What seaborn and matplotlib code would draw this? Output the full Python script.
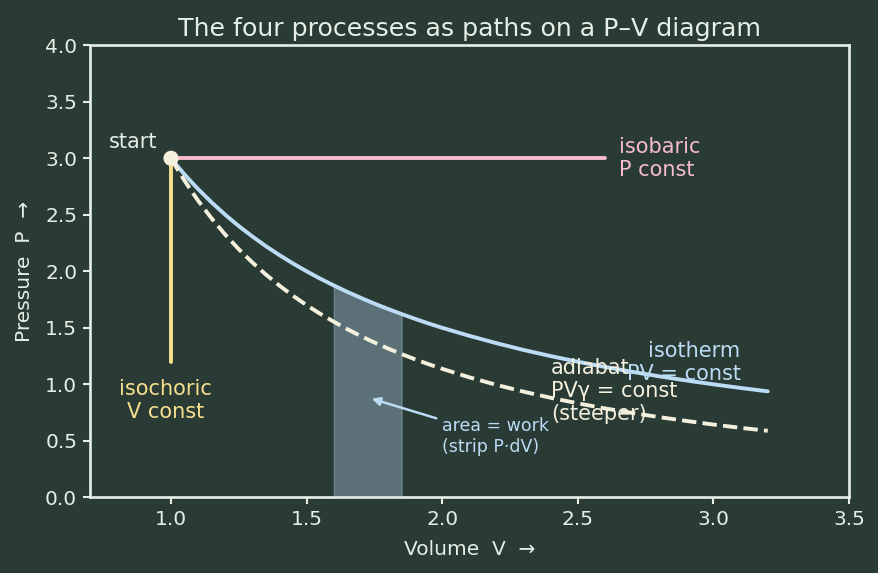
import numpy as np
import matplotlib
matplotlib.use("Agg")
import matplotlib.pyplot as plt
import seaborn as sns

# values
v_curve = [1.0, 1.025, 1.05, 1.075, 1.1, 1.15, 1.2, 1.25, 1.3, 1.35, 1.4, 1.45,
           1.5, 1.55, 1.6, 1.65, 1.7, 1.75, 1.8, 1.85, 1.9, 1.95, 2.0, 2.1,
           2.2, 2.3, 2.4, 2.5, 2.6, 2.7, 2.8, 2.9, 3.0, 3.1, 3.2]
p_isotherm = [3.000, 2.927, 2.857, 2.791, 2.727, 2.609, 2.500, 2.400, 2.308,
              2.222, 2.143, 2.069, 2.000, 1.935, 1.875, 1.818, 1.765, 1.714,
              1.667, 1.622, 1.579, 1.538, 1.500, 1.429, 1.364, 1.304, 1.250,
              1.200, 1.154, 1.111, 1.071, 1.034, 1.000, 0.968, 0.938]
p_adiabat = [3.000, 2.898, 2.802, 2.711, 2.625, 2.467, 2.324, 2.195, 2.078,
             1.971, 1.873, 1.783, 1.700, 1.624, 1.554, 1.488, 1.427, 1.370,
             1.317, 1.268, 1.221, 1.178, 1.137, 1.062, 0.995, 0.935, 0.881,
             0.832, 0.787, 0.747, 0.710, 0.676, 0.644, 0.615, 0.589]
v_isobaric = [1.0, 2.6]
p_isobaric = [3.0, 3.0]
v_isochoric = [1.0, 1.0]
p_isochoric = [3.0, 1.2]
v_strip = [1.6, 1.65, 1.7, 1.75, 1.8, 1.85]
p_strip = [1.875, 1.818, 1.765, 1.714, 1.667, 1.622]
start_v, start_p = 1.0, 3.0

bg = "#2a3a34"
fg = "#e6efe6"
c_iso_t = "#bcdcf6"
c_adia = "#f4f0de"
c_isobar = "#f6bccb"
c_isochor = "#f6e08e"

sns.set_theme(style="dark", rc={
    "figure.facecolor": bg, "axes.facecolor": bg, "axes.edgecolor": fg,
    "axes.labelcolor": fg, "text.color": fg, "xtick.color": fg,
    "ytick.color": fg, "axes.grid": False, "axes.linewidth": 1.9,
    "xtick.bottom": True, "ytick.left": True,
})
plt.rcParams["font.family"] = ["DejaVu Sans"]

fig, ax = plt.subplots(figsize=(8.79, 5.73), dpi=100)
fig.subplots_adjust(left=0.102, right=0.966, top=0.921, bottom=0.132)

# strip under the isotherm = work
ax.fill_between(v_strip, 0, p_strip, color="#a8c4dc", alpha=0.4,
                edgecolor="#9fb8cc", linewidth=1)

lw = 2.8
sns.lineplot(x=v_isobaric, y=p_isobaric, ax=ax, color=c_isobar, linewidth=lw,
             estimator=None, sort=False)
sns.lineplot(x=v_isochoric, y=p_isochoric, ax=ax, color=c_isochor, linewidth=lw,
             estimator=None, sort=False)
sns.lineplot(x=v_curve, y=p_isotherm, ax=ax, color=c_iso_t, linewidth=lw,
             estimator=None, sort=False)
sns.lineplot(x=v_curve, y=p_adiabat, ax=ax, color=c_adia, linewidth=lw,
             linestyle="--", estimator=None, sort=False)
sns.scatterplot(x=[start_v], y=[start_p], ax=ax, color=c_adia, s=120,
                edgecolor="none", zorder=5)

fs = 15
ax.text(0.95, 3.14, "start", color=fg, fontsize=fs, ha="right", va="center")
ax.text(2.65, 3.0, "isobaric\nP const", color=c_isobar, fontsize=fs,
        ha="left", va="center")
ax.text(0.98, 0.86, "isochoric\nV const", color=c_isochor, fontsize=fs,
        ha="center", va="center")
ax.text(3.1, 1.19, "isotherm\nPV = const", color=c_iso_t, fontsize=fs,
        ha="right", va="center", multialignment="right")
ax.text(2.4, 0.94, "adiabat\nPVγ = const\n(steeper)", color=c_adia, fontsize=fs,
        ha="left", va="center")
ax.annotate("area = work\n(strip P·dV)", xy=(1.73, 0.88), xytext=(2.0, 0.54),
            color=c_iso_t, fontsize=12.5, ha="left", va="center",
            arrowprops=dict(arrowstyle="-|>", color=c_iso_t, lw=1.8,
                            mutation_scale=12))

ax.set_xlim(0.7, 3.5)
ax.set_ylim(0, 4)
ax.set_xticks(np.arange(1.0, 3.51, 0.5))
ax.set_yticks(np.arange(0, 4.01, 0.5))
ax.tick_params(labelsize=14.5, length=5, width=1.5, colors=fg, pad=4)
ax.set_xlabel("Volume  V  →", fontsize=14.5, labelpad=8)
ax.set_ylabel("Pressure  P  →", fontsize=14.5, labelpad=8)
ax.set_title("The four processes as paths on a P–V diagram", fontsize=18.2,
             color=fg, pad=7)
for s in ax.spines.values():
    s.set_visible(True)
    s.set_color(fg)

fig.savefig("out.png", dpi=100, facecolor=bg)
